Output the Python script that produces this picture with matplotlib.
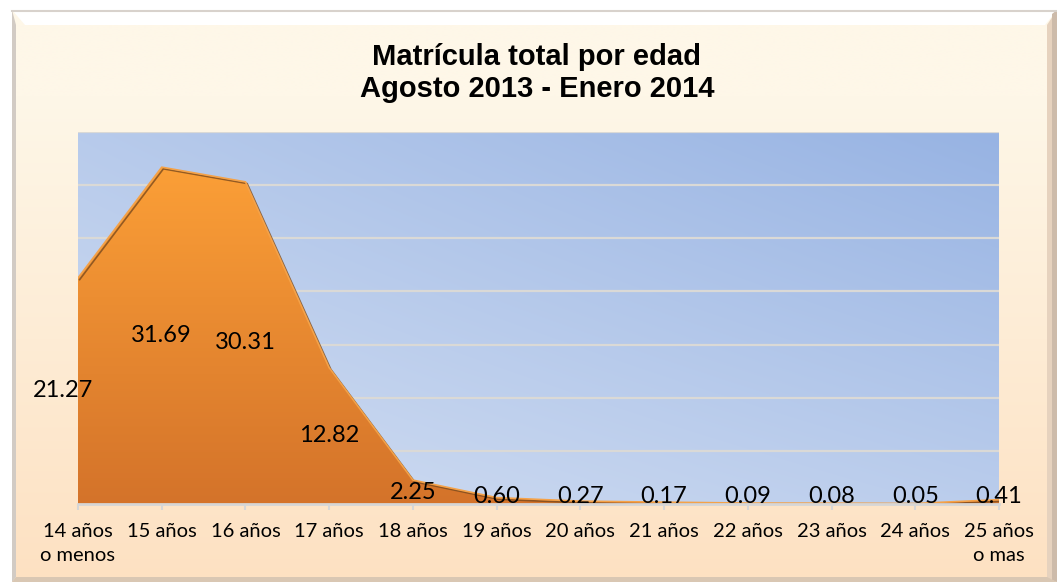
import numpy as np
import matplotlib
matplotlib.use("Agg")
import matplotlib.pyplot as plt
from matplotlib.patches import Polygon
from matplotlib.colors import to_rgb
import matplotlib.patheffects as pe

# ---- data ----
categories = ["14 años\no menos", "15 años", "16 años", "17 años", "18 años",
              "19 años", "20 años", "21 años", "22 años", "23 años",
              "24 años", "25 años\no mas"]
values = [21.27, 31.69, 30.31, 12.82, 2.25, 0.60, 0.27, 0.17, 0.09, 0.08, 0.05, 0.41]
title_text = "Matrícula total por edad\nAgosto 2013 - Enero 2014"
y_max = 35
y_step = 5

W, H = 1057, 582
fig = plt.figure(figsize=(W / 100, H / 100), dpi=100)
fig.patch.set_facecolor("white")

# ---- background frame (pixel coordinates) ----
bg = fig.add_axes([0, 0, 1, 1])
bg.set_xlim(0, W)
bg.set_ylim(H, 0)
bg.axis("off")

top_c = np.array(to_rgb("#FEF7E8"))
bot_c = np.array(to_rgb("#FDE1C2"))
t = np.linspace(0, 1, 256)[:, None]
t = np.clip((t - 0.15) / 0.85, 0, 1)
grad = (1 - t) * top_c + t * bot_c
grad = np.repeat(grad[:, None, :], 2, axis=1)
bg.imshow(grad, extent=(12, 1057, 582, 10), aspect="auto", zorder=0, interpolation="bilinear")

bg.add_patch(Polygon([(12, 10), (1057, 10), (1045, 25), (25, 25)], closed=True,
                     facecolor="white", edgecolor="none", zorder=1))
bg.plot([12, 1057], [10.5, 10.5], color="#D8D2CC", lw=1.5, zorder=2)
bg.add_patch(Polygon([(1057, 10), (1057, 582), (1047, 578), (1047, 25)], closed=True,
                     facecolor="#E6D2BE", edgecolor="none", zorder=1))
bg.add_patch(Polygon([(1052, 14), (1057, 10), (1057, 582), (1052, 580)], closed=True,
                     facecolor="#CDBBAA", edgecolor="none", zorder=1))
bg.add_patch(Polygon([(12, 582), (1057, 582), (1047, 577), (16, 577)], closed=True,
                     facecolor="#D9C7B3", edgecolor="none", zorder=1))
bg.add_patch(Polygon([(12, 10), (16, 25), (16, 577), (12, 582)], closed=True,
                     facecolor="#D2CBC4", edgecolor="none", zorder=1))

# ---- title ----
fig.text(537 / W, 1 - 73 / H, title_text, ha="center", va="center",
         fontsize=21, fontweight="bold", family="Liberation Sans",
         linespacing=1.15, color="black")

# ---- plot area ----
L, R, T, B = 78, 999, 132, 504
ax = fig.add_axes([L / W, (H - B) / H, (R - L) / W, (B - T) / H])
ax.set_facecolor("none")
n = len(values)
x = np.arange(n)

gx, gy = np.meshgrid(np.linspace(0, 1, 200), np.linspace(1, 0, 120))
s = np.clip(0.4 * gx + 0.45 * gy + 0.15 * gx * gy, 0, 1)
c0 = np.array(to_rgb("#D2DEF2"))
c1 = np.array(to_rgb("#97B3E3"))
pa = (1 - s[..., None]) * c0 + s[..., None] * c1
ax.imshow(pa, extent=(0, 1, 0, 1), transform=ax.transAxes, aspect="auto",
          zorder=0, interpolation="bilinear")

for gv in np.arange(y_step, y_max + 0.1, y_step):
    ax.axhline(gv, color="#DAD9D6", lw=1.6, zorder=1)

verts = [(0, 0)] + list(zip(x, values)) + [(n - 1, 0)]
poly = Polygon(verts, closed=True, facecolor="none", edgecolor="none", zorder=2)
ax.add_patch(poly)
vmax = max(values)
og = np.linspace(0, 1, 256)[:, None]
oc_top = np.array(to_rgb("#FB9F37"))
oc_bot = np.array(to_rgb("#D4732A"))
ograd = (1 - og) * oc_top + og * oc_bot
ograd = np.repeat(ograd[:, None, :], 2, axis=1)
im = ax.imshow(ograd, extent=(0, n - 1, 0, vmax), aspect="auto", zorder=2,
               interpolation="bilinear")
im.set_clip_path(poly)
ax.plot(x, values, color="#F5A248", lw=1.2, zorder=3,
        path_effects=[pe.SimpleLineShadow(offset=(1.2, -1.2), shadow_color="#7A4A1E", alpha=0.8),
                      pe.Normal()])
ax.set_xlim(0, n - 1)
ax.set_ylim(0, y_max)

for i, v in enumerate(values):
    ly = max(v / 2, 0.75)
    lx = i - 0.18 if i == 0 else i
    ax.text(lx, ly, f"{v:.2f}", ha="center", va="center", fontsize=17,
            family="Lato", color="black", zorder=5, clip_on=False)

for sp in ["left", "right", "top"]:
    ax.spines[sp].set_visible(False)
ax.spines["bottom"].set_color("#D6D6D6")
ax.spines["bottom"].set_linewidth(2)
ax.spines["bottom"].set_zorder(4)
ax.set_yticks([])
ax.set_xticks(x)
ax.set_xticklabels(categories, fontsize=14.5, family="Lato", linespacing=1.45)
ax.tick_params(axis="x", length=4, width=1.5, color="#D6D6D6", pad=10, direction="out")

fig.savefig("out.png", dpi=100, facecolor="white")
